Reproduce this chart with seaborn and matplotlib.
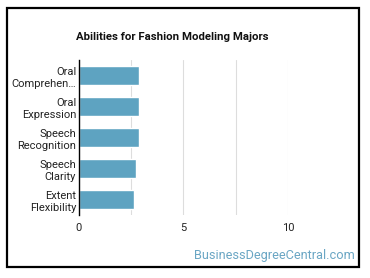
import matplotlib
matplotlib.use("Agg")
import matplotlib.pyplot as plt
import seaborn as sns
import pandas as pd
from matplotlib.patches import Rectangle

# Datos del grafico
abilities = ["Oral\nComprehen…", "Oral\nExpression", "Speech\nRecognition", "Speech\nClarity", "Extent\nFlexibility"]
scores = [2.88, 2.88, 2.88, 2.75, 2.62]
x_ticks = [0, 5, 10]

df = pd.DataFrame({"ability": abilities, "score": scores})

sns.set_style("white")
plt.rcParams['font.family'] = ['Roboto', 'DejaVu Sans']

fig = plt.figure(figsize=(3.7, 2.78), dpi=100)
ax = fig.add_axes([0.2135, 0.2266, 0.5645, 0.5575])

sns.barplot(data=df, x="score", y="ability", color="#5ea3c1", saturation=1,
            width=0.62, ax=ax)

ax.set_xlim(0, 10)
ax.set_ylim(4.5, -0.5)
ax.set_xticks(x_ticks)
ax.set_xticks([2.5, 7.5], minor=True)
ax.grid(axis="x", which="both", color="#dddddd", linewidth=0.8)
ax.set_axisbelow(True)
for s in ["top", "right", "bottom"]:
    ax.spines[s].set_visible(False)
ax.spines["left"].set_color("black")
ax.spines["left"].set_linewidth(1.0)
ax.tick_params(axis="both", which="both", length=0, labelsize=8, colors="#222222")
ax.tick_params(axis="x", pad=6)
ax.tick_params(axis="y", pad=2)
for lbl in ax.get_yticklabels():
    lbl.set_linespacing(1.3)
ax.set_xlabel("")
ax.set_ylabel("")

fig.text(0.465, 0.868, "Abilities for Fashion Modeling Majors", ha="center", va="center",
         fontsize=8.2, fontweight="bold", color="#111111")
fig.text(0.958, 0.08, "BusinessDegreeCentral.com", ha="right", va="center",
         fontsize=9.2, color="#6aa6c4")

# Marco negro
fig.patches.append(Rectangle((7 / 370, 1 - 267 / 278), 352 / 370, 259 / 278,
                             transform=fig.transFigure, fill=False,
                             edgecolor="black", linewidth=1.6))

plt.savefig("out.png", dpi=100)
